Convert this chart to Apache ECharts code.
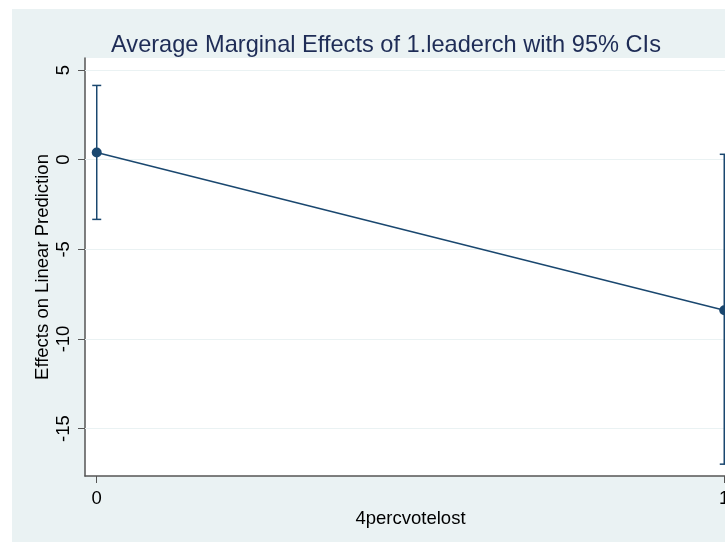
<!DOCTYPE html>
<html>
<head>
<meta charset="utf-8">
<script src="https://cdn.jsdelivr.net/npm/echarts@6/dist/echarts.min.js"></script>
<style>
  html, body { margin: 0; padding: 0; background: #fff; }
  #main { width: 725px; height: 542px; }
</style>
</head>
<body>
<div id="main"></div>
<script>
// margins data
var xValues = [0, 1];
var margins = [0.4, -8.4];
var ciLow = [-3.33, -16.98];
var ciHigh = [4.14, 0.3];
var yTicks = [-15, -10, -5, 0, 5];
var xTicks = [0, 1];

var navy = "#1a476f";
var bg = "#eaf2f3";
var font = "Liberation Sans, Arial, sans-serif";

var pointData = [];
var ciData = [];
for (var i = 0; i < xValues.length; i++) {
  pointData.push([xValues[i], margins[i]]);
  ciData.push([xValues[i], ciLow[i], ciHigh[i]]);
}

var chart = echarts.init(document.getElementById("main"));
chart.setOption({
  animation: false,
  backgroundColor: "#fff",
  graphic: [
    {
      type: "rect",
      z: -10,
      shape: { x: 12, y: 9, width: 720, height: 540 },
      style: { fill: bg }
    }
  ],
  title: {
    text: "Average Marginal Effects of 1.leaderch with 95% CIs",
    left: 381,
    top: 28,
    textAlign: "center",
    textStyle: {
      fontFamily: font,
      fontSize: 23.6,
      fontWeight: "normal",
      color: "#1e2c56"
    }
  },
  // the plot runs past the right edge of the picture, so x=1 sits on the border
  grid: {
    left: 85,
    width: 651,
    top: 58,
    bottom: 66,
    outerBoundsMode: "none",
    show: true,
    backgroundColor: "#fff",
    borderWidth: 0
  },
  xAxis: {
    type: "value",
    min: -0.0187,
    max: 1.0187,
    name: "4percvotelost",
    nameLocation: "middle",
    nameGap: 33,
    nameMoveOverlap: false,
    nameTextStyle: { fontFamily: font, fontSize: 18.5, color: "#000" },
    axisLine: { show: true, onZero: false, lineStyle: { color: "#555", width: 1.5 } },
    axisTick: { show: true, customValues: xTicks, length: 7, lineStyle: { color: "#555" } },
    axisLabel: {
      customValues: xTicks,
      margin: 13,
      fontFamily: font,
      fontSize: 18.5,
      color: "#000"
    },
    splitLine: { show: false }
  },
  yAxis: {
    type: "value",
    min: -17.64,
    max: 5.67,
    name: "Effects on Linear Prediction",
    nameLocation: "middle",
    nameGap: 33,
    nameMoveOverlap: false,
    nameTextStyle: { fontFamily: font, fontSize: 18.5, color: "#000" },
    axisLine: { show: true, onZero: false, lineStyle: { color: "#555", width: 1.5 } },
    axisTick: { show: true, customValues: yTicks, length: 7, lineStyle: { color: "#555" } },
    axisLabel: {
      customValues: yTicks,
      rotate: 90,
      margin: 12,
      fontFamily: font,
      fontSize: 18.5,
      color: "#000"
    },
    splitLine: { show: false }
  },
  series: [
    {
      type: "line",
      data: pointData,
      symbol: "circle",
      symbolSize: 10,
      z: 3,
      lineStyle: { color: navy, width: 1.5 },
      itemStyle: { color: navy },
      markLine: {
        silent: true,
        symbol: "none",
        label: { show: false },
        z: 1,
        lineStyle: { color: bg, width: 1.2, type: "solid" },
        data: yTicks.map(function (t) { return { yAxis: t }; })
      }
    },
    {
      type: "custom",
      data: ciData,
      z: 2,
      renderItem: function (params, api) {
        var x = api.value(0);
        var lo = api.coord([x, api.value(1)]);
        var hi = api.coord([x, api.value(2)]);
        var cap = 4.5;
        var st = { stroke: navy, lineWidth: 1.5, fill: null };
        return {
          type: "group",
          children: [
            { type: "line", shape: { x1: lo[0], y1: lo[1], x2: hi[0], y2: hi[1] }, style: st },
            { type: "line", shape: { x1: lo[0] - cap, y1: lo[1], x2: lo[0] + cap, y2: lo[1] }, style: st },
            { type: "line", shape: { x1: hi[0] - cap, y1: hi[1], x2: hi[0] + cap, y2: hi[1] }, style: st }
          ]
        };
      }
    }
  ]
});
</script>
</body>
</html>
